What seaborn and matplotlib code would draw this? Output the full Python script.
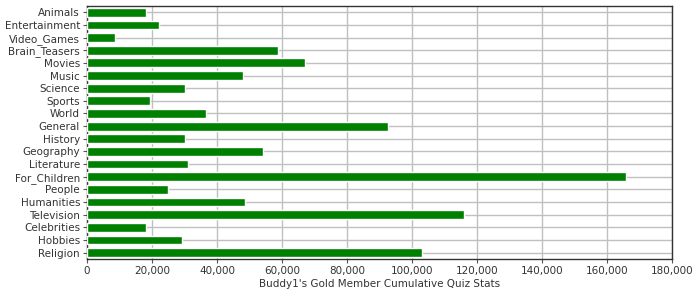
import matplotlib
matplotlib.use("Agg")
import matplotlib.pyplot as plt
import seaborn as sns
import pandas as pd
from matplotlib.ticker import FuncFormatter, MultipleLocator

categories = ["Animals", "Entertainment", "Video_Games", "Brain_Teasers", "Movies",
              "Music", "Science", "Sports", "World", "General", "History",
              "Geography", "Literature", "For_Children", "People", "Humanities",
              "Television", "Celebrities", "Hobbies", "Religion"]
values = [18100, 22000, 8600, 58700, 67000,
          47900, 30000, 19400, 36600, 92500, 30300,
          54100, 31000, 165800, 24800, 48500,
          116000, 18300, 29100, 103000]
x_label = "Buddy1's Gold Member Cumulative Quiz Stats"

df = pd.DataFrame({"category": categories, "value": values})

sns.set_style("white")
plt.rcParams['font.family'] = ['DejaVu Sans']

fig = plt.figure(figsize=(7, 3), dpi=100)
ax = fig.add_axes([0.1243, 0.137, 0.8357, 0.843])

sns.barplot(data=df, y="category", x="value", orient="h", color="#008000",
            saturation=1, width=0.7, ax=ax, zorder=3)

ax.set_xlim(0, 180000)
ax.set_ylim(len(categories) - 0.5, -0.5)
ax.xaxis.set_major_locator(MultipleLocator(20000))
ax.xaxis.set_major_formatter(FuncFormatter(lambda v, p: f"{int(v):,}"))

ax.grid(True, axis="both", color="#c0c0c0", linewidth=1.0, zorder=0)
ax.set_axisbelow(True)

for s in ax.spines.values():
    s.set_visible(True)
    s.set_color("#333333")
    s.set_linewidth(1.0)

ax.tick_params(axis="both", which="both", direction="out", length=3, width=0.8,
               color="#555555", labelsize=7.5, labelcolor="#333333", pad=2)
ax.tick_params(left=True, bottom=True)

ax.set_ylabel("")
ax.set_xlabel(x_label, fontsize=7.5, color="#333333", labelpad=2)

fig.savefig("out.png", dpi=100)
